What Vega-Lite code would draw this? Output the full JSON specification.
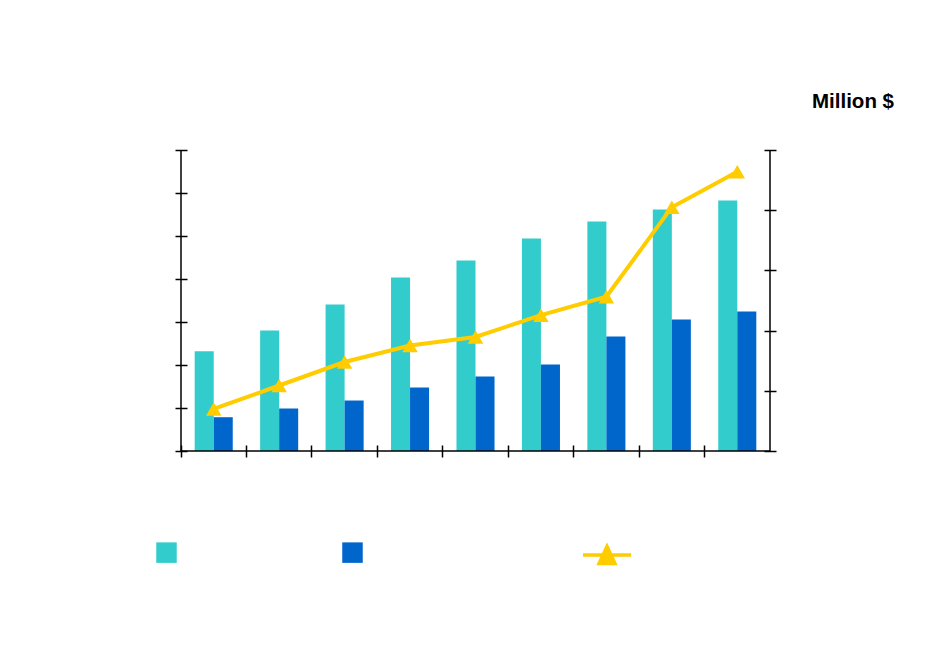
{
  "$schema": "https://vega.github.io/schema/vega-lite/v6.json",
  "width": 589,
  "height": 301,
  "autosize": "none",
  "padding": {"left": 181, "top": 150, "right": 169, "bottom": 198},
  "background": "white",
  "config": {"view": {"stroke": null}, "font": "Liberation Sans"},
  "title": {"text": "Million $", "anchor": "end", "frame": "group", "dx": 124, "offset": 37, "fontSize": 20.5, "fontWeight": "bold", "font": "Liberation Sans", "color": "black"},
  "datasets": {
    "bars": [
      {"period": "1", "series": "Series 1", "value": 116.0},
      {"period": "1", "series": "Series 2", "value": 39.3},
      {"period": "2", "series": "Series 1", "value": 140.1},
      {"period": "2", "series": "Series 2", "value": 49.4},
      {"period": "3", "series": "Series 1", "value": 170.3},
      {"period": "3", "series": "Series 2", "value": 58.7},
      {"period": "4", "series": "Series 1", "value": 201.7},
      {"period": "4", "series": "Series 2", "value": 73.8},
      {"period": "5", "series": "Series 1", "value": 221.5},
      {"period": "5", "series": "Series 2", "value": 86.6},
      {"period": "6", "series": "Series 1", "value": 247.1},
      {"period": "6", "series": "Series 2", "value": 100.6},
      {"period": "7", "series": "Series 1", "value": 266.9},
      {"period": "7", "series": "Series 2", "value": 133.1},
      {"period": "8", "series": "Series 1", "value": 280.8},
      {"period": "8", "series": "Series 2", "value": 152.9},
      {"period": "9", "series": "Series 1", "value": 291.3},
      {"period": "9", "series": "Series 2", "value": 162.2}
    ],
    "line": [
      {"period": "1", "series": "Series 3", "value": 34.9},
      {"period": "2", "series": "Series 3", "value": 54.4},
      {"period": "3", "series": "Series 3", "value": 73.9},
      {"period": "4", "series": "Series 3", "value": 87.6},
      {"period": "5", "series": "Series 3", "value": 94.7},
      {"period": "6", "series": "Series 3", "value": 112.8},
      {"period": "7", "series": "Series 3", "value": 128.1},
      {"period": "8", "series": "Series 3", "value": 202.5},
      {"period": "9", "series": "Series 3", "value": 231.9}
    ],
    "edge": [{}]
  },
  "layer": [
    {
      "data": {"name": "bars"},
      "mark": {"type": "bar"},
      "encoding": {
        "x": {"field": "period", "type": "nominal", "sort": null,
              "scale": {"paddingInner": 0, "paddingOuter": 0},
              "axis": {"labels": false, "title": null, "bandPosition": 0, "domain": false, "ticks": true, "tickSize": 12, "offset": -6, "tickColor": "black", "tickWidth": 1.5, "grid": false}},
        "xOffset": {"field": "series", "type": "nominal", "scale": {"paddingInner": 0, "paddingOuter": 0.72}},
        "y": {"field": "value", "type": "quantitative", "scale": {"domain": [0, 350]},
              "axis": {"values": [0, 50, 100, 150, 200, 250, 300, 350], "labels": false, "title": null, "grid": false, "domain": false, "tickSize": 12, "offset": -6, "tickColor": "black", "tickWidth": 1.5}},
        "color": {"field": "series", "type": "nominal", "scale": {"range": ["#33CCCC", "#0066CC"]},
                  "legend": {"orient": "none", "legendX": -25, "legendY": 392, "direction": "horizontal", "title": null, "labelExpr": "''", "symbolType": "square", "symbolSize": 420, "symbolStrokeWidth": 0, "symbolOpacity": 1, "columnPadding": 165, "labelOffset": 0, "padding": 0}}
      }
    },
    {
      "data": {"name": "line"},
      "encoding": {
        "x": {"field": "period", "type": "nominal", "sort": null},
        "y": {"field": "value", "type": "quantitative", "scale": {"domain": [0, 250]},
              "axis": {"orient": "right", "values": [0, 50, 100, 150, 200, 250], "labels": false, "title": null, "grid": false, "domain": false, "tickSize": 12, "offset": -6, "tickColor": "black", "tickWidth": 1.5}},
        "stroke": {"field": "series", "type": "nominal", "scale": {"range": ["#FFCC00"]},
                   "legend": {"orient": "none", "legendX": 400, "legendY": 379, "title": null, "labelExpr": "''", "symbolType": "M-1,0H1M-0.33,0.35L0,-0.36L0.33,0.35Z", "symbolSize": 2304, "symbolStrokeWidth": 3.5, "symbolFillColor": "#FFCC00", "symbolStrokeColor": "#FFCC00", "symbolOpacity": 1, "labelOffset": 0, "padding": 0}}
      },
      "layer": [
        {"mark": {"type": "line", "strokeWidth": 4}},
        {"mark": {"type": "point", "shape": "triangle-up", "filled": true, "fill": "#FFCC00", "size": 240, "opacity": 1, "strokeWidth": 0}}
      ]
    },
    {
      "data": {"name": "edge"},
      "mark": {"type": "rule", "color": "black", "strokeWidth": 1.5},
      "encoding": {"x": {"datum": "1", "type": "nominal", "bandPosition": 0}}
    },
    {
      "data": {"name": "edge"},
      "mark": {"type": "rule", "color": "black", "strokeWidth": 1.5},
      "encoding": {"x": {"datum": "9", "type": "nominal", "bandPosition": 1}}
    },
    {
      "data": {"name": "edge"},
      "mark": {"type": "rule", "color": "black", "strokeWidth": 1.5},
      "encoding": {"y": {"datum": 0, "type": "quantitative", "scale": {"domain": [0, 350]}, "axis": null}}
    }
  ],
  "resolve": {"scale": {"y": "independent"}}
}
